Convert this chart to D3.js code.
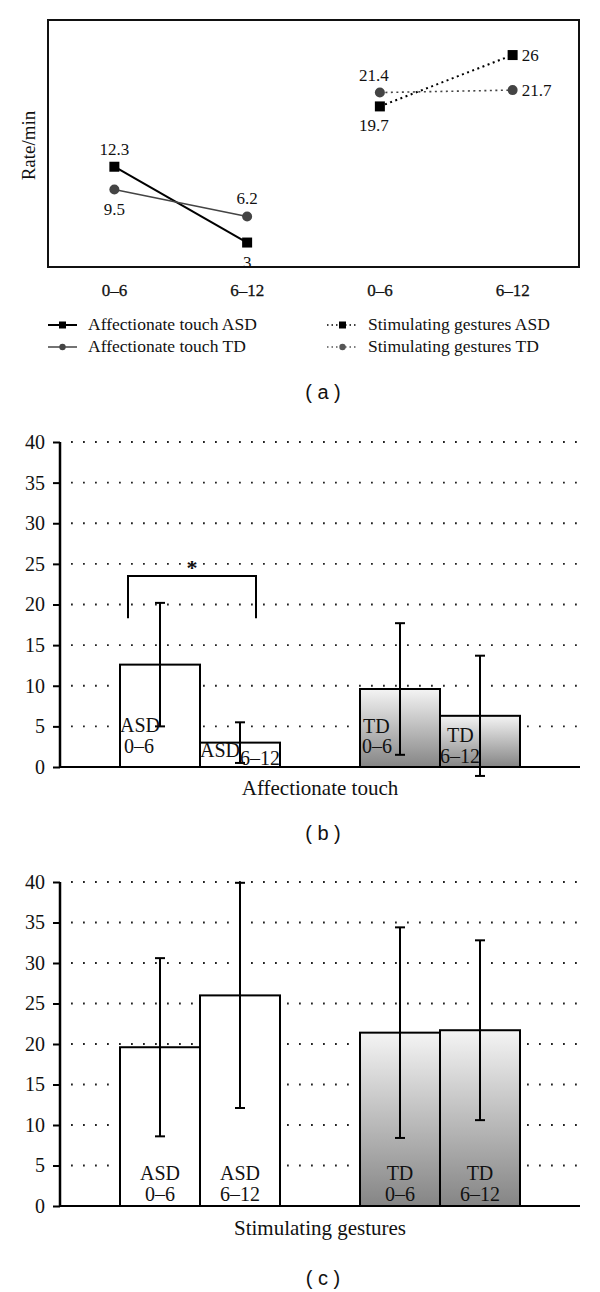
<!DOCTYPE html>
<html><head><meta charset="utf-8">
<script src="https://cdn.jsdelivr.net/npm/d3@7/dist/d3.min.js"></script>
<style>body{margin:0;background:#fff}svg{display:block}</style>
</head><body>
<script>
// ---------- DATA ----------
const ages = ["0–6", "6–12"];
const lineCategories = ["Affectionate touch", "Stimulating gestures"];
const affASD = [12.3, 3];
const affTD = [9.5, 6.2];
const stimASD = [19.7, 26];
const stimTD = [21.4, 21.7];
const legendLabels = ["Affectionate touch ASD", "Affectionate touch TD", "Stimulating gestures ASD", "Stimulating gestures TD"];

const barGroups = ["ASD 0–6", "ASD 6–12", "TD 0–6", "TD 6–12"];
const affMeans = [12.6, 3.0, 9.6, 6.3];
const affErr = [7.6, 2.5, 8.1, 7.4];
const stimMeans = [19.6, 26.0, 21.4, 21.7];
const stimErr = [11.0, 13.9, 13.0, 11.1];
const yTicks = [0, 5, 10, 15, 20, 25, 30, 35, 40];

// ---------- SETUP ----------
const W = 600, H = 1292;
const SERIF = "'Liberation Serif', 'Times New Roman', serif";
const SANS = "'Liberation Sans', Arial, sans-serif";
const svg = d3.select("body").append("svg").attr("width", W).attr("height", H);

const defs = svg.append("defs");
const grad = defs.append("linearGradient").attr("id", "tdGrad")
  .attr("x1", 0).attr("y1", 0).attr("x2", 0).attr("y2", 1);
grad.append("stop").attr("offset", "0%").attr("stop-color", "#f4f4f4");
grad.append("stop").attr("offset", "100%").attr("stop-color", "#858585");

// ---------- PANEL A ----------
(function () {
  const left = 48, right = 579, top = 20, bottom = 267;
  const idx = [0, 1, 2, 3];
  const x = d3.scaleBand().domain(idx).range([left, right]).padding(0);
  const y = d3.scaleLinear().domain([0, 30.3]).range([bottom, top]);
  const g = svg.append("g");
  g.append("rect").attr("x", left).attr("y", top).attr("width", right - left).attr("height", bottom - top)
    .attr("fill", "none").attr("stroke", "#111").attr("stroke-width", 2);

  const xAxis = d3.axisBottom(x).tickSize(0).tickFormat(i => ages[i % 2]);
  const ax = g.append("g").attr("transform", `translate(0,${bottom})`).call(xAxis);
  ax.select(".domain").remove();
  ax.selectAll("text").attr("dy", 0).attr("y", 29).attr("font-family", SERIF)
    .attr("font-size", 17).attr("fill", "#111").attr("stroke", "#111").attr("stroke-width", 0.3);

  g.append("text").attr("transform", `translate(35,${(top + bottom) / 2 + 2}) rotate(-90)`)
    .attr("text-anchor", "middle").attr("font-family", SERIF).attr("font-size", 19).attr("fill", "#111")
    .text("Rate/min");

  const xc = i => x(i) + x.bandwidth() / 2;
  const series = [
    { vals: affASD, off: 0, color: "#000", w: 2, dash: null, shape: "sq", lab: ["above", "below"] },
    { vals: affTD, off: 0, color: "#444", w: 1.6, dash: null, shape: "ci", lab: ["below", "above"] },
    { vals: stimASD, off: 2, color: "#000", w: 2, dash: "2,3.5", shape: "sq", lab: ["below", "right"] },
    { vals: stimTD, off: 2, color: "#444", w: 1.6, dash: "2,3.5", shape: "ci", lab: ["above", "right"] }
  ];
  const line = d3.line().x(d => xc(d.i)).y(d => y(d.v));
  series.forEach(s => {
    const pts = s.vals.map((v, k) => ({ i: k + s.off, v }));
    g.append("path").attr("d", line(pts)).attr("fill", "none").attr("stroke", s.color)
      .attr("stroke-width", s.w).attr("stroke-dasharray", s.dash);
    pts.forEach((p, k) => {
      if (s.shape === "sq") {
        g.append("rect").attr("x", xc(p.i) - 5).attr("y", y(p.v) - 5).attr("width", 10).attr("height", 10).attr("fill", "#000");
      } else {
        g.append("circle").attr("cx", xc(p.i)).attr("cy", y(p.v)).attr("r", 5).attr("fill", "#444");
      }
      const pos = s.lab[k];
      const t = g.append("text").attr("font-family", SERIF).attr("font-size", 17).attr("fill", "#111").text(p.v);
      if (pos === "above") t.attr("x", xc(p.i) - 6 * (s.off ? 1 : 0)).attr("y", y(p.v) - 12).attr("text-anchor", "middle");
      else if (pos === "below") t.attr("x", xc(p.i) - 6 * (s.off ? 1 : 0)).attr("y", y(p.v) + 25).attr("text-anchor", "middle");
      else t.attr("x", xc(p.i) + 9).attr("y", y(p.v) + 6).attr("text-anchor", "start");
    });
  });

  // legend
  const lg = svg.append("g");
  const rows = [
    { x0: 48, x1: 77, tx: 88, y: 325, color: "#000", w: 2, dash: null, shape: "sq", label: legendLabels[0] },
    { x0: 48, x1: 77, tx: 88, y: 347, color: "#444", w: 1.5, dash: null, shape: "ci", label: legendLabels[1] },
    { x0: 327, x1: 358, tx: 368, y: 325, color: "#000", w: 1.5, dash: "1.5,3", shape: "sq", label: legendLabels[2] },
    { x0: 327, x1: 358, tx: 368, y: 347, color: "#555", w: 1.5, dash: "1.5,3", shape: "ci", label: legendLabels[3] }
  ];
  rows.forEach(r => {
    lg.append("line").attr("x1", r.x0).attr("x2", r.x1).attr("y1", r.y).attr("y2", r.y)
      .attr("stroke", r.color).attr("stroke-width", r.w).attr("stroke-dasharray", r.dash);
    const mx = (r.x0 + r.x1) / 2;
    if (r.shape === "sq") lg.append("rect").attr("x", mx - 3.5).attr("y", r.y - 3.5).attr("width", 7).attr("height", 7).attr("fill", "#000");
    else lg.append("circle").attr("cx", mx).attr("cy", r.y).attr("r", 3.2).attr("fill", r.color);
    lg.append("text").attr("x", r.tx).attr("y", r.y + 5).attr("font-family", SERIF).attr("font-size", 17.5)
      .attr("fill", "#111").text(r.label);
  });
  svg.append("text").attr("x", 323).attr("y", 399).attr("text-anchor", "middle")
    .attr("font-family", SANS).attr("font-size", 20).attr("fill", "#111").text("( a )");
})();

// ---------- BAR PANELS ----------
function barPanel(opts) {
  const { yTop, yBottom, means, errs, title, titleY, capLabel, capY, labelMode } = opts;
  const axisX = 60, axisEnd = 580;
  const slot = d3.scaleLinear().domain([0, 6.5]).range([axisX, axisEnd]);
  const slotStart = i => (i < 2 ? 0.75 + i : 3.75 + (i - 2));
  const y = d3.scaleLinear().domain([0, 40]).range([yBottom, yTop]);
  const g = svg.append("g");

  // grid
  g.selectAll(".grid").data(yTicks.filter(t => t > 0)).enter().append("line")
    .attr("x1", axisX + 11).attr("x2", 578).attr("y1", d => y(d)).attr("y2", d => y(d))
    .attr("stroke", "#222").attr("stroke-width", 1.8).attr("stroke-dasharray", "1.8,10.2");

  // bars
  means.forEach((m, i) => {
    const x0 = slot(slotStart(i)), x1 = slot(slotStart(i) + 1);
    g.append("rect").attr("x", x0).attr("y", y(m)).attr("width", x1 - x0).attr("height", y(0) - y(m))
      .attr("fill", i < 2 ? "#fff" : "url(#tdGrad)").attr("stroke", "#000").attr("stroke-width", 2);
  });

  // error bars
  means.forEach((m, i) => {
    const cx = slot(slotStart(i) + 0.5);
    const hi = y(m + errs[i]), lo = y(m - errs[i]);
    g.append("line").attr("x1", cx).attr("x2", cx).attr("y1", hi).attr("y2", lo).attr("stroke", "#000").attr("stroke-width", 2);
    [hi, lo].forEach(yy => g.append("line").attr("x1", cx - 5).attr("x2", cx + 5).attr("y1", yy).attr("y2", yy)
      .attr("stroke", "#000").attr("stroke-width", 2));
  });

  // bar labels
  barGroups.forEach((name, i) => {
    const [grp, age] = name.split(" ");
    const x0 = slot(slotStart(i)), cx = slot(slotStart(i) + 0.5);
    const t = g.append("g").attr("font-family", SERIF).attr("font-size", 20).attr("fill", "#111");
    if (labelMode === "center") {
      t.append("text").attr("x", cx).attr("y", y(0) - 26).attr("text-anchor", "middle").text(grp);
      t.append("text").attr("x", cx).attr("y", y(0) - 5).attr("text-anchor", "middle").text(age);
    } else {
      const lay = [
        { gx: 0, gy: -35, ax: 4, ay: -14 },
        { gx: 0, gy: -10, ax: 40, ay: -2 },
        { gx: 3, gy: -34, ax: 2, ay: -14 },
        { gx: 7, gy: -25, ax: 0, ay: -4 }
      ][i];
      t.append("text").attr("x", x0 + lay.gx).attr("y", y(0) + lay.gy).text(grp);
      t.append("text").attr("x", x0 + lay.ax).attr("y", y(0) + lay.ay).text(age);
    }
  });

  // axes
  const yAxis = d3.axisLeft(y).tickValues(yTicks).tickSize(7).tickPadding(8);
  const ya = g.append("g").attr("transform", `translate(${axisX},0)`).call(yAxis);
  ya.select(".domain").attr("stroke", "#000").attr("stroke-width", 2.5).attr("d", `M0,${y(40)}V${y(0)}`);
  ya.selectAll(".tick line").attr("stroke", "#000").attr("stroke-width", 2);
  ya.selectAll("text").attr("font-family", SERIF).attr("font-size", 20).attr("fill", "#111");
  g.append("line").attr("x1", axisX).attr("x2", axisEnd).attr("y1", y(0)).attr("y2", y(0))
    .attr("stroke", "#000").attr("stroke-width", 2);

  g.append("text").attr("x", 320).attr("y", titleY).attr("text-anchor", "middle")
    .attr("font-family", SERIF).attr("font-size", 21).attr("fill", "#111").text(title);
  svg.append("text").attr("x", 323).attr("y", capY).attr("text-anchor", "middle")
    .attr("font-family", SANS).attr("font-size", 20).attr("fill", "#111").text(capLabel);
  return { g, y, slot, slotStart };
}

const pb = barPanel({ yTop: 442, yBottom: 767, means: affMeans, errs: affErr, title: "Affectionate touch",
  titleY: 795, capLabel: "( b )", capY: 840, labelMode: "offset" });
// significance bracket between ASD bars
(function () {
  const { g, y, slot, slotStart } = pb;
  const xa = slot(slotStart(0) + 0.1), xb = slot(slotStart(1) + 0.7);
  const yb = y(23.5), yl = y(18.3);
  g.append("path").attr("d", `M${xa},${yl}V${yb}H${xb}V${yl}`).attr("fill", "none")
    .attr("stroke", "#000").attr("stroke-width", 2);
  g.append("text").attr("x", (xa + xb) / 2).attr("y", yb - 1).attr("text-anchor", "middle")
    .attr("font-family", SERIF).attr("font-size", 22).attr("font-weight", "bold").attr("fill", "#111").text("*");
})();

barPanel({ yTop: 882, yBottom: 1206, means: stimMeans, errs: stimErr, title: "Stimulating gestures",
  titleY: 1235, capLabel: "( c )", capY: 1285, labelMode: "center" });
</script>
</body></html>
